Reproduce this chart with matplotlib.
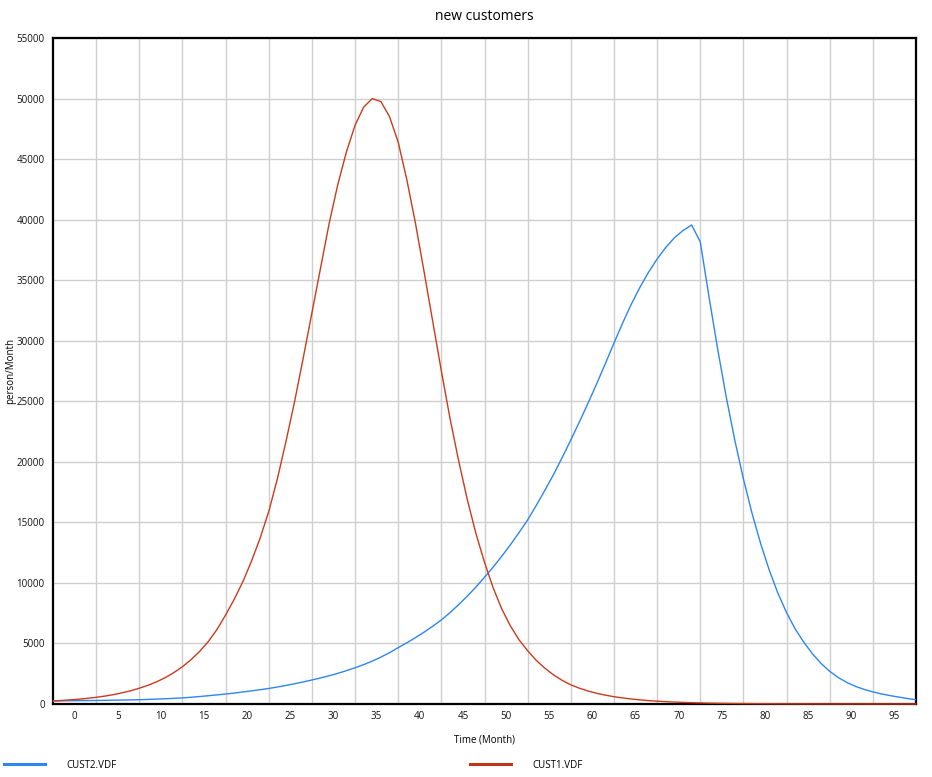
import numpy as np
import matplotlib
matplotlib.use('Agg')
import matplotlib.pyplot as plt
from matplotlib.lines import Line2D

plt.rcParams['font.family'] = ['Open Sans', 'DejaVu Sans']

# model time, one value per month (0..100)
months = np.arange(0, 101)

cust1 = [250, 290, 340, 395, 465, 550, 650, 770, 920, 1090,
         1300, 1540, 1830, 2170, 2590, 3080, 3660, 4350, 5160, 6150,
         7350, 8650, 10100, 11800, 13700, 15900, 18600, 21700, 25000, 28600,
         32300, 36000, 39700, 42900, 45600, 47800, 49300, 50000, 49750, 48500,
         46400, 43300, 39700, 35700, 31600, 27500, 23600, 20100, 16900, 14100,
         11700, 9600, 7850, 6450, 5300, 4400, 3600, 2950, 2400, 1950,
         1580, 1300, 1070, 880, 730, 600, 500, 410, 340, 280,
         230, 190, 155, 128, 105, 86, 70, 58, 47, 39,
         32, 27, 22, 18, 15, 12, 10, 8, 7, 6,
         5, 4, 3, 3, 2, 2, 2, 1, 1, 1, 1]

cust2 = [250, 258, 266, 274, 282, 290, 300, 311, 323, 336,
         350, 375, 400, 430, 463, 500, 555, 615, 680, 750,
         820, 900, 990, 1080, 1180, 1280, 1400, 1530, 1670, 1820,
         1980, 2150, 2330, 2530, 2750, 2990, 3250, 3540, 3870, 4240,
         4650, 5050, 5480, 5930, 6420, 6940, 7540, 8200, 8900, 9650,
         10460, 11300, 12200, 13150, 14150, 15200, 16400, 17650, 18950, 20350,
         21800, 23300, 24850, 26450, 28100, 29800, 31450, 33000, 34400, 35650,
         36750, 37700, 38500, 39100, 39560, 38180, 33700, 29400, 25400, 21800,
         18600, 15750, 13250, 11050, 9150, 7550, 6200, 5100, 4150, 3350,
         2700, 2180, 1770, 1450, 1200, 1000, 830, 690, 570, 450, 350]

xlabels = [str(v) for v in range(0, 100, 5)]
yticks = np.arange(0, 55001, 5000)

BLUE = '#2c86f5'
RED = '#cc3a1c'

fig = plt.figure(figsize=(9.32, 7.77), dpi=100)
ax = fig.add_axes([0.0569, 0.094, 0.9259, 0.857])

ax.plot(months, cust2, color=BLUE, lw=1.0, zorder=3)
ax.plot(months, cust1, color=RED, lw=1.0, zorder=3, clip_on=False)

ax.set_xlim(0, 100)
ax.set_ylim(0, 55000)

# grid lines every 5 months, labels sit half way between them
ax.set_xticks(np.arange(5, 100, 5), minor=True)
ax.set_xticks(np.arange(2.5, 100, 5), labels=xlabels)
ax.set_yticks(yticks, labels=[str(v) for v in yticks])
ax.grid(which='minor', axis='x', color='#cfcfcf', lw=1.0)
ax.grid(which='major', axis='y', color='#cfcfcf', lw=1.0)
ax.set_axisbelow(True)

ax.tick_params(which='both', length=0, labelsize=7, colors='#111111')
ax.tick_params(axis='y', pad=6)
ax.tick_params(axis='x', pad=5)
for s in ax.spines.values():
    s.set_linewidth(1.6)
    s.set_color('black')

ax.set_title('new customers', fontsize=10, pad=13)
ax.set_xlabel('Time (Month)', fontsize=7, labelpad=9)
ax.set_ylabel('person/Month', fontsize=7, labelpad=0)

# two legend entries, one on each half of the bottom strip
for i, (col, name) in enumerate([(BLUE, 'CUST2.VDF'), ('#c23318', 'CUST1.VDF')]):
    leg = fig.legend([Line2D([], [], color=col, lw=2.2)], [name], loc='lower left',
                     bbox_to_anchor=(0.5 * i, 0.003), frameon=False, fontsize=7,
                     handlelength=4.2, handletextpad=2.2, borderaxespad=0.0,
                     borderpad=0.4)

fig.savefig('out.png', dpi=100)
